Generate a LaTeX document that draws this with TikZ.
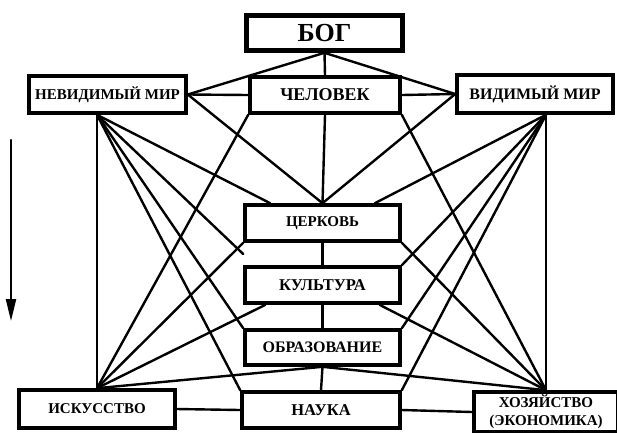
\documentclass[tikz,border=0pt]{standalone}
\usepackage{fontspec}
\setmainfont{Liberation Serif}
\usetikzlibrary{arrows.meta,calc}
\begin{document}
\begin{tikzpicture}[x=1pt,y=-1pt,
  box/.style={draw, line width=3.6pt, fill=white, inner sep=0pt, align=center,
    font=\bfseries\fontsize{15}{16}\selectfont},
  conn/.style={line width=2.4pt, line cap=round}]
\useasboundingbox (0,0) rectangle (617,432);
\clip (0,0) rectangle (617,432);
% nodes
\node[box, line width=4.6pt, minimum width=156pt, minimum height=35pt,
  font=\bfseries\fontsize{26}{26}\selectfont] (bog) at (324.5,33) {БОГ};
\node[box, minimum width=150pt, minimum height=36pt,
  font=\bfseries\fontsize{18}{18}\selectfont] (chel) at (325,95) {ЧЕЛОВЕК};
\node[box, minimum width=157pt, minimum height=37pt,
  font=\bfseries\fontsize{15}{15}\selectfont] (nev) at (107.5,94.5) {НЕВИДИМЫЙ МИР};
\node[box, minimum width=156pt, minimum height=38pt,
  font=\bfseries\fontsize{16}{16}\selectfont] (vid) at (535,94) {ВИДИМЫЙ МИР};
\node[box, minimum width=155pt, minimum height=36pt,
  font=\bfseries\fontsize{15}{15}\selectfont] (cerk) at (322.5,223) {ЦЕРКОВЬ};
\node[box, minimum width=155pt, minimum height=36pt,
  font=\bfseries\fontsize{16.5}{16.5}\selectfont] (kult) at (322.5,285) {КУЛЬТУРА};
\node[box, minimum width=155pt, minimum height=35pt,
  font=\bfseries\fontsize{16}{16}\selectfont] (obr) at (322.5,347.5) {ОБРАЗОВАНИЕ};
\node[box, minimum width=156pt, minimum height=38pt,
  font=\bfseries\fontsize{15}{15}\selectfont] (isk) at (97,409) {ИСКУССТВО};
\node[box, minimum width=158pt, minimum height=36pt,
  font=\bfseries\fontsize{16.5}{16.5}\selectfont] (nauka) at (321,410) {НАУКА};
\node[box, minimum width=144pt, minimum height=40pt,
  font=\bfseries\fontsize{15}{18}\selectfont] (hoz) at (546,412) {ХОЗЯЙСТВО\\(ЭКОНОМИКА)};
% helper points
\coordinate (nb) at (nev.south -| isk.north);
\coordinate (vb) at (vid.south -| hoz.north);
\coordinate (cerkL) at ($(cerk.north west)!0.17!(cerk.north east)$);
\coordinate (cerkR) at ($(cerk.north west)!0.83!(cerk.north east)$);
\coordinate (gapL) at ($(cerk.south west)!0.5!(kult.north west)$);
\coordinate (kultL) at ($(kult.south west)!0.14!(kult.south east)$);
\coordinate (kultR) at ($(kult.south west)!0.86!(kult.south east)$);
\coordinate (arrTop) at (11,140);
\coordinate (arrBot) at (11,321);
% connectors
\begin{scope}[conn]
\draw (bog.south) -- (chel.north);
\draw (bog.south) -- (nev.east);
\draw (bog.south) -- (vid.west);
\draw (nev.east) -- (chel.west);
\draw (chel.east) -- (vid.west);
\draw (nev.east) -- (cerk.north);
\draw (vid.west) -- (cerk.north);
\draw (chel.south) -- (cerk.north);
\draw (chel.south west) -- (isk.north);
\draw (chel.south east) -- (hoz.north);
\draw (nb) -- (isk.north);
\draw (nb) -- (cerkL);
\draw (nb) -- (gapL);
\draw (nb) -- (obr.north west);
\draw (nb) -- (nauka.north west);
\draw (vb) -- (hoz.north);
\draw (vb) -- (cerkR);
\draw (vb) -- (kult.north east);
\draw (vb) -- (obr.north east);
\draw (vb) -- (nauka.north east);
\draw (cerk.south west) -- (isk.north);
\draw (cerk.south east) -- (hoz.north);
\draw (kultL) -- (isk.north);
\draw (kultR) -- (hoz.north);
\draw (obr.south) -- (isk.north);
\draw (obr.south) -- (hoz.north);
\draw (cerk.south) -- (kult.north);
\draw (kult.south) -- (obr.north);
\draw (obr.south) -- (nauka.north);
\draw (isk.east) -- (nauka.west);
\draw (nauka.east) -- (hoz.west);
\draw[-{Triangle[length=22pt,width=10pt]}] (arrTop) -- (arrBot);
\end{scope}
\end{tikzpicture}
\end{document}
